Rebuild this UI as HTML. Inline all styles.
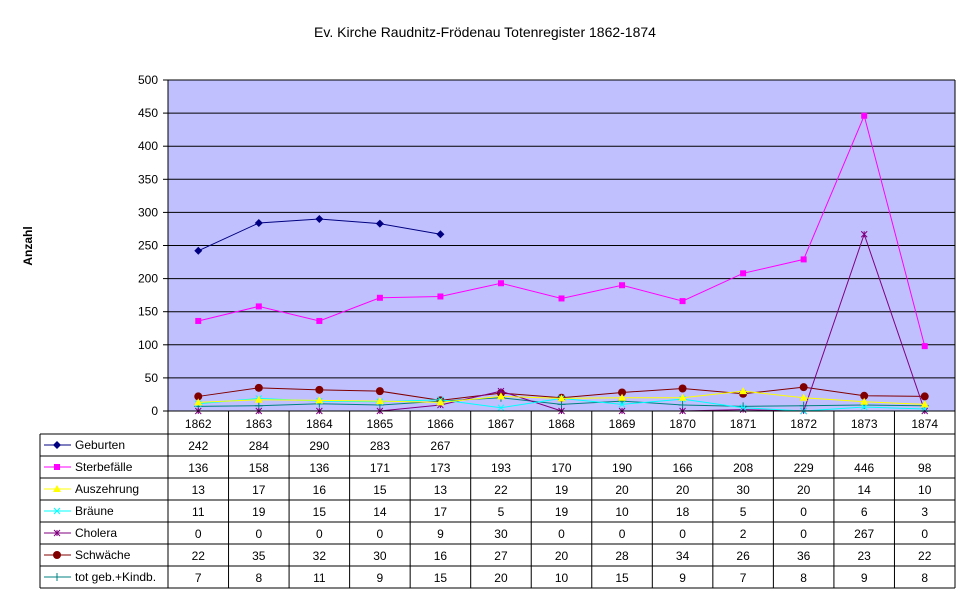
<!DOCTYPE html>
<html><head><meta charset="utf-8"><style>
body{margin:0;background:#fff;width:970px;height:604px;overflow:hidden}
svg text{font-family:"Liberation Sans",Arial,sans-serif;font-size:12px}
</style></head><body>
<svg id="s" width="970" height="604" xmlns="http://www.w3.org/2000/svg">
<text x="485" y="37" text-anchor="middle" style="font-size:14px">Ev. Kirche Raudnitz-Frödenau Totenregister 1862-1874</text>
<text transform="translate(32,246) rotate(-90)" text-anchor="middle" style="font-weight:bold">Anzahl</text>
<rect x="168" y="80" width="787" height="331" fill="#c0c0ff"/>
</svg>
<script>
(function(){
const s=document.getElementById('s'),NS='http://www.w3.org/2000/svg';
function el(t,a,txt){const e=document.createElementNS(NS,t);for(const k in a)e.setAttribute(k,a[k]);if(txt!==undefined)e.textContent=txt;s.appendChild(e);return e;}
const L=168,R=955,T=80,B=411,cw=(R-L)/13;
const Y=v=>B-v*(B-T)/500, X=i=>L+cw*(i+0.5);
for(let v=0;v<=500;v+=50){const y=Y(v);if(v>0)el('line',{x1:L,x2:R,y1:y,y2:y,stroke:'#000','stroke-width':1});
el('line',{x1:L-5,x2:L,y1:y,y2:y,stroke:'#000'});
el('text',{x:L-10,y:y+4,'text-anchor':'end'},v);}
el('line',{x1:L,x2:L,y1:T,y2:B,stroke:'#000'});
el('line',{x1:R,x2:R,y1:T,y2:588,stroke:'#000'});
const series=[
['Geburten','#000080',[242,284,290,283,267,null,null,null,null,null,null,null,null],'diamond'],
['Sterbefälle','#ff00ff',[136,158,136,171,173,193,170,190,166,208,229,446,98],'square'],
['Auszehrung','#ffff00',[13,17,16,15,13,22,19,20,20,30,20,14,10],'tri'],
['Bräune','#00ffff',[11,19,15,14,17,5,19,10,18,5,0,6,3],'x'],
['Cholera','#800080',[0,0,0,0,9,30,0,0,0,2,0,267,0],'star'],
['Schwäche','#800000',[22,35,32,30,16,27,20,28,34,26,36,23,22],'circle'],
['tot geb.+Kindb.','#008080',[7,8,11,9,15,20,10,15,9,7,8,9,8],'plus']];
function marker(type,x,y,c){
 if(type=='diamond')el('polygon',{points:`${x},${y-4} ${x+4},${y} ${x},${y+4} ${x-4},${y}`,fill:c});
 else if(type=='square')el('rect',{x:x-3,y:y-3,width:6,height:6,fill:c});
 else if(type=='tri')el('polygon',{points:`${x},${y-4} ${x+4},${y+3} ${x-4},${y+3}`,fill:c});
 else if(type=='x'){el('path',{d:`M${x-3} ${y-3}L${x+3} ${y+3}M${x-3} ${y+3}L${x+3} ${y-3}`,stroke:c,fill:'none'});}
 else if(type=='star'){el('path',{d:`M${x-3} ${y-3}L${x+3} ${y+3}M${x-3} ${y+3}L${x+3} ${y-3}M${x} ${y-3}V${y+3}`,stroke:c,fill:'none'});}
 else if(type=='circle')el('circle',{cx:x,cy:y,r:4,fill:c});
 else if(type=='plus')el('path',{d:`M${x-4} ${y}H${x+4}M${x} ${y-4}V${y+4}`,stroke:c,fill:'none'});
}
for(let k=series.length-1;k>=0;k--){const [n,c,d,m]=series[k];let pts=[];d.forEach((v,i)=>{if(v!==null)pts.push(X(i)+','+Y(v))});
 el('polyline',{points:pts.join(' '),fill:'none',stroke:c,'stroke-width':1});
 d.forEach((v,i)=>{if(v!==null)marker(m,X(i),Y(v),c)});}
el('line',{x1:L,x2:R,y1:B,y2:B,stroke:'#000'});
const rh=22,tableTop=434;
for(let i=0;i<=13;i++){const x=L+cw*i;el('line',{x1:x,x2:x,y1:B,y2:588,stroke:'#000'});}
el('line',{x1:40,x2:40,y1:tableTop,y2:588,stroke:'#000'});
for(let r=0;r<=7;r++){const y=tableTop+r*rh;el('line',{x1:40,x2:R,y1:y,y2:y,stroke:'#000'});}
for(let i=0;i<13;i++)el('text',{x:X(i),y:B+17,'text-anchor':'middle'},1862+i);
series.forEach(([n,c,d,m],r)=>{const cy=tableTop+r*rh+11;
 el('line',{x1:44,x2:71,y1:cy,y2:cy,stroke:c});marker(m,57,cy,c);
 el('text',{x:75,y:cy+4},n);
 d.forEach((v,i)=>{if(v!==null)el('text',{x:X(i),y:cy+5,'text-anchor':'middle'},v)});});
})();
</script>
</body></html>
